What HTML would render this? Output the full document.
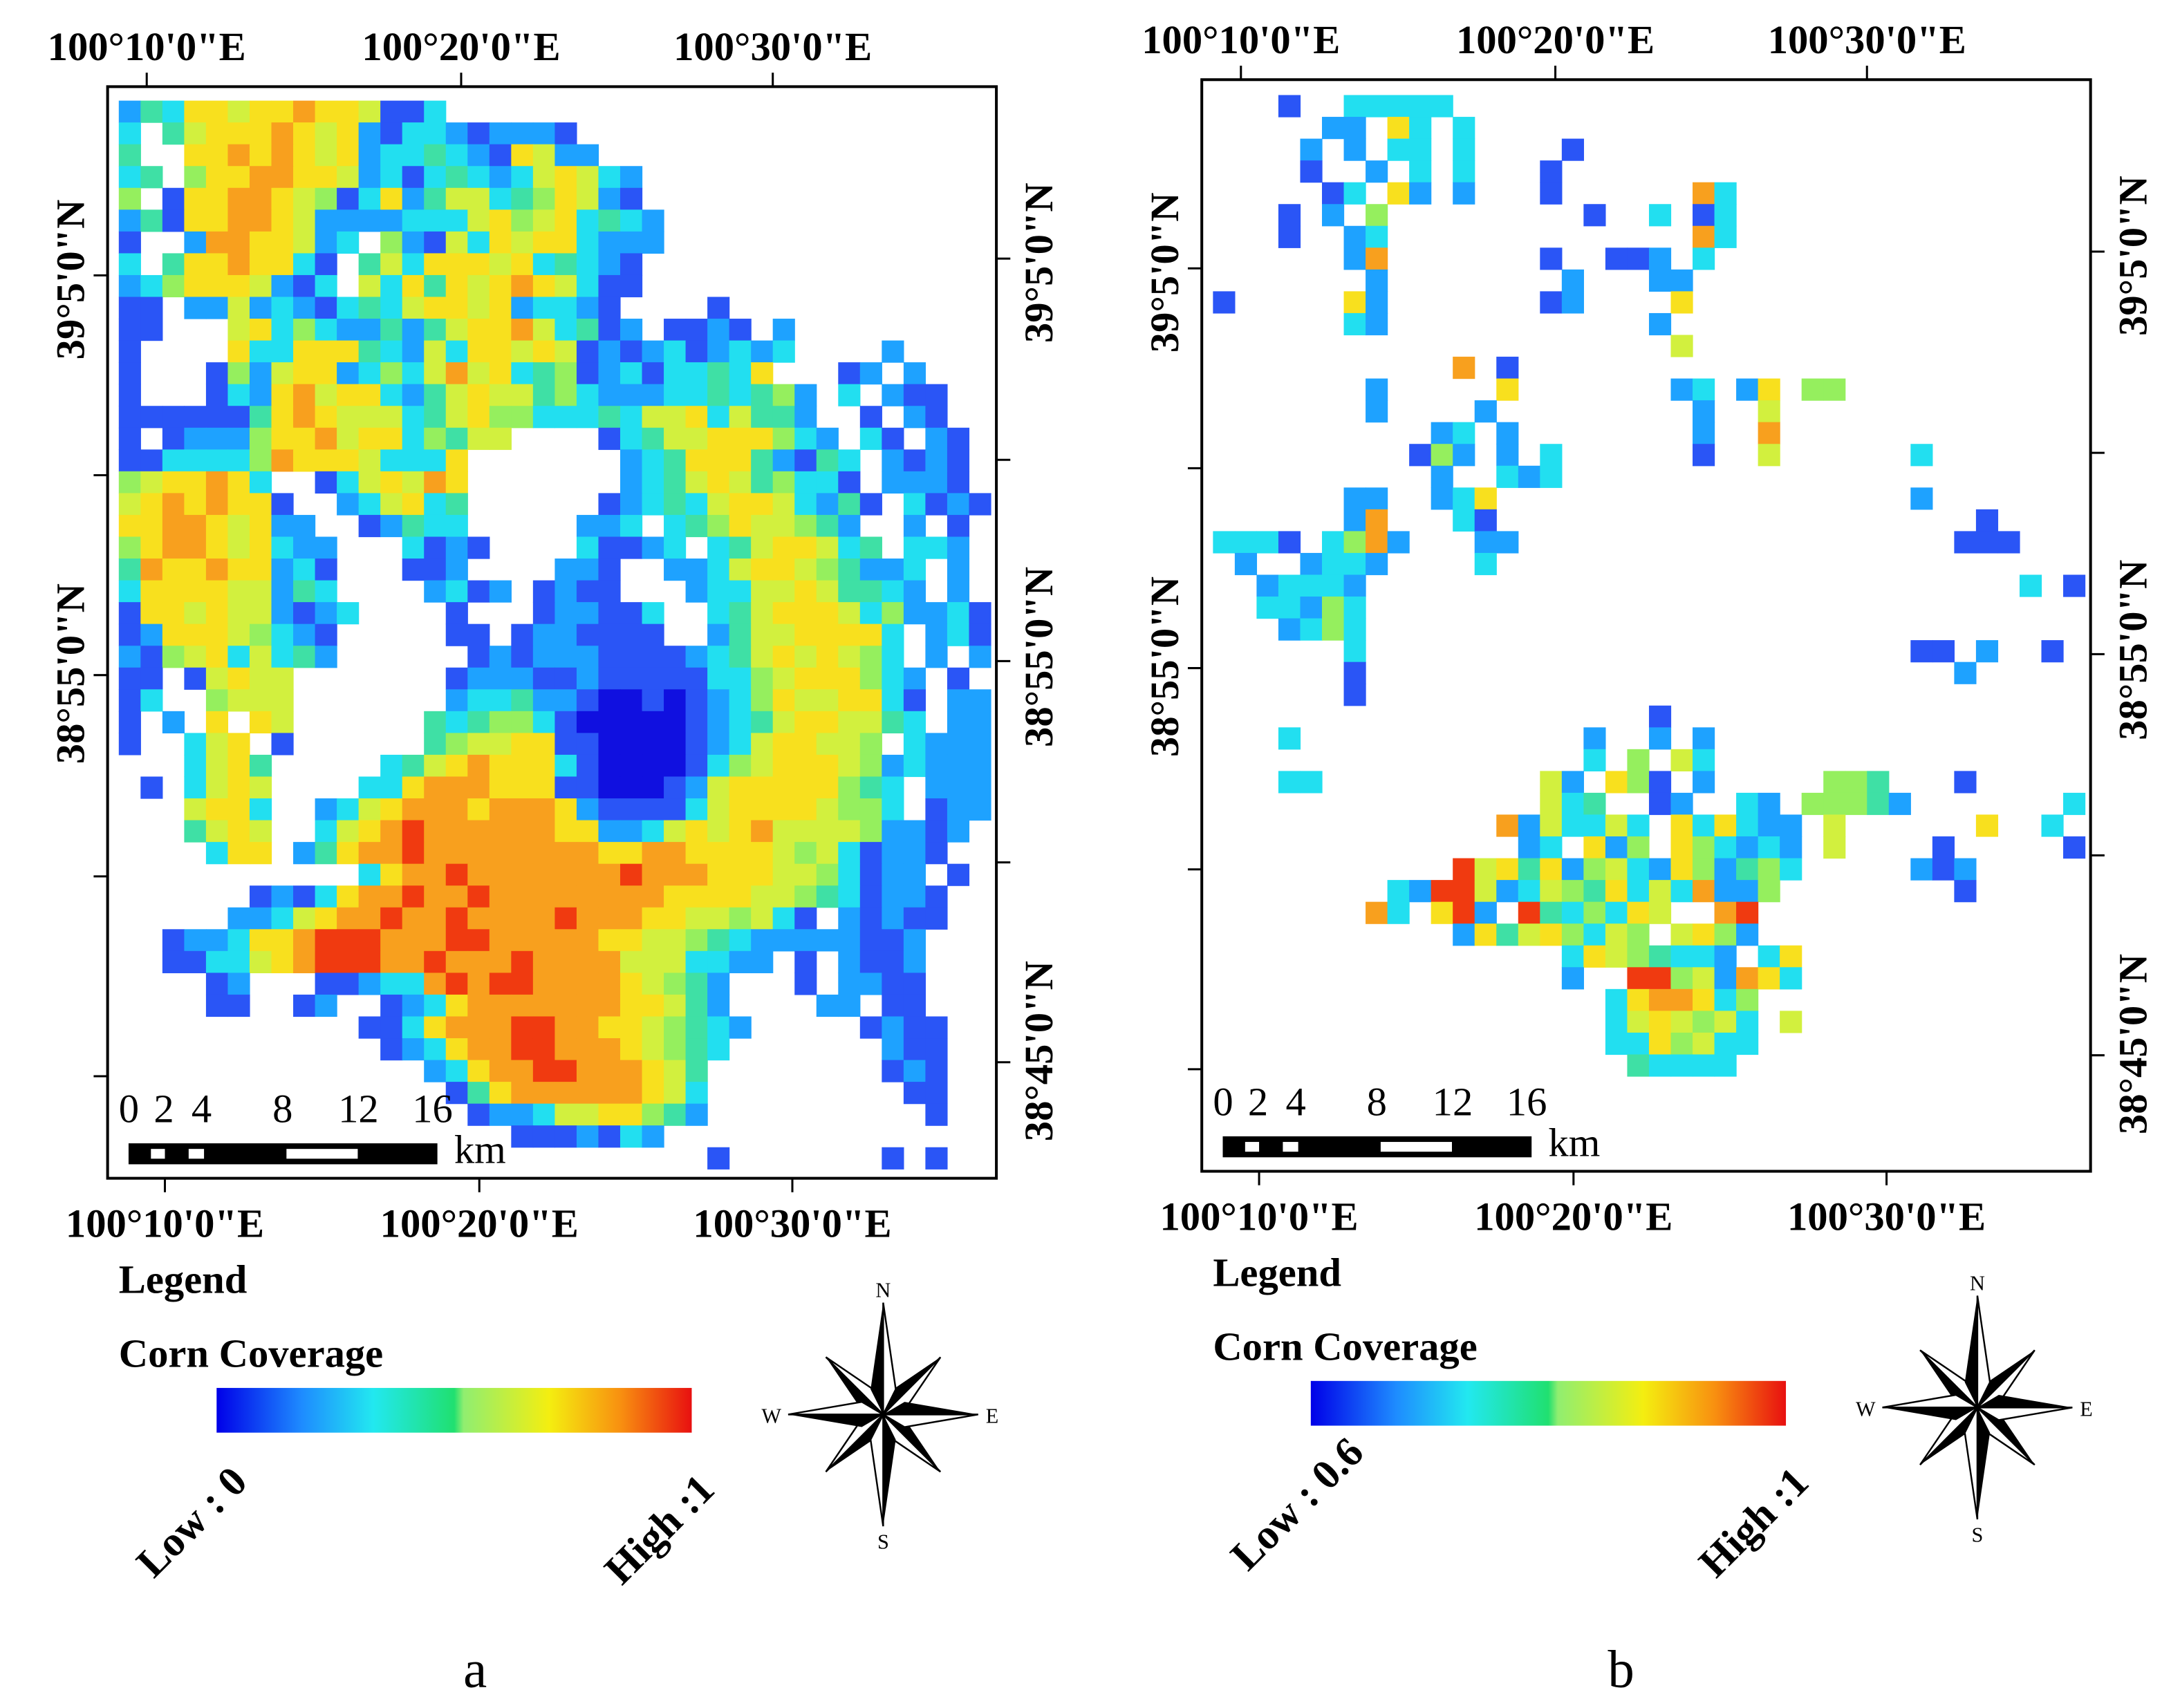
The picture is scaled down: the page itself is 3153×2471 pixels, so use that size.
<!DOCTYPE html>
<html><head><meta charset="utf-8"><style>
html,body{margin:0;padding:0;background:#fff;}
svg{display:block;}
text{font-family:"Liberation Serif",serif;}
</style></head><body>
<svg id="fig" width="3153" height="2471" viewBox="0 0 1560 1222" preserveAspectRatio="none" xmlns="http://www.w3.org/2000/svg">
<rect width="1560" height="1222" fill="#fff"/>
<g id="gridA"></g>
<g id="gridB"></g>
<g id="deco"></g>
</svg>
<script>
// Coverage level per cell (0 = low ... 9 = high, '.' = no corn)
const mapARows = [
"243776778776113",
"3.4677787672133212221",
"4..7787876723343217622",
"34.577887762313432367632",
"5.1778876513724663457621",
"2417788762222333675673432",
"1..28877623.5216376773222",
"3.47787731.4637776734321",
"2357776213.6374767876311",
"11.22623213436776723321....1",
"11...6735322424677863412.1121.2",
"1....73377743263776761212312323....2",
"1...15267723536867345123133437...12.2",
"1...1327867732467664532223343452.3.211",
"11111147876663467553334366736442..1.21",
"1.1222577867735466....13466777532.31.21",
"1133335877763337.......23477742143.2121",
"5677873..1367687.......23467645331.2221",
"67878771..236734......1234367763241.3121",
"778876722..12433.....223.345766542..2.1",
"5788767322...3121....31123.34677634.332",
"4877877231...112....221..223677654223.2",
"3777766243....2312.1211...23366764432.2",
"17767662123....1...122113..3467776352231",
"1277765321.....11.1221111..246677773.231",
"2156736342......12122211112346767653.2.2",
"11.16766.......1222112111113356777532.1",
"13..5666.......2334221001012357667731.22",
"1.2.7.76......43455310000012346776643.22",
"1..367.1......456677110000123677665.3222",
"...3674.....3467877731000013567776523222",
".1.3676....3378887771100012677777543.222",
"...6773..236788878887211113677776553.122",
"...4676..367898888887722367678666652212",
"....377.247889888888887788777765631221",
"...........37889888888898887776653122.1",
"......12137889889888888887777665431221",
".....223678898898888988877665631.21211",
"..12237789998889988888776654322222112",
"..1133678999889888988886663322.1.2112",
"....12...1123389899888876542...1.2211",
"....11..12..1237888888877642....22.11",
"...........113788899887765432.....1211",
"............1237889988876543.......211",
"..............2378899888764........121",
"...............147888888763.........11",
"................12236677542..........1",
"..................1112132",
"...........................1.......1.1"
];
const mapBRows = [
"...1..33333",
".....22.73.3",
"....2.2.33.3....1",
"....1..2.3.3...1",
".....13.72.2...1......83",
"...1.2.5.........1..3.13",
"...1..23..............83",
"......28.......1..112.3",
".......2........2...22",
"1.....72.......12....7",
"......32............2",
".....................6",
"...........8.1",
".......2.....7.......23.27.55",
".......2....2.........2..6",
"..........23.2........2..8",
".........152.2.3......1..6......3",
"..........2..323",
"......22..237...................2",
"......28...31......................1",
"3331.3582...22....................111",
".2..2332....3",
"..23332..............................3.1",
"..33253",
"...2353",
"......3.........................11.2..1",
"......1...........................2",
"......1",
"....................1",
"...3.............2..2.2",
".................3.5.63",
"...33..........62.751.2.....554...1",
"...............634..12..32.55542.......3",
".............8263363.737322.6......7..3",
"..............23.725.753232.6....1.....1",
"...........9674725632752453.....212",
"........329962365473638225........1",
".......83.792.9435376..89",
"...........274675365.6752",
"................37654332.37",
"................2..99562873",
"..................3788735",
"..................3676563.6",
"..................3375633",
"...................43333"
];
const levelColors = ["#1010e0","#2a55f6","#1ea2ff","#22dff0","#3fe0a5","#95ef5e","#d2f03e","#f8e01e","#f8a01e","#f03a10"];
const cellA = {x0:85, y0:72, s:15.6};
const cellB = {x0:868, y0:68, s:15.6};
const NS = "http://www.w3.org/2000/svg";
function drawGrid(rows, g, c, tag){
  rows.forEach((row, r) => {
    for (let k = 0; k < row.length; k++) {
      const ch = row[k];
      if (ch === '.') continue;
      const el = document.createElementNS(NS, 'rect');
      el.setAttribute('x', (c.x0 + k*c.s).toFixed(2));
      el.setAttribute('y', (c.y0 + r*c.s).toFixed(2));
      el.setAttribute('width', c.s+0.3);
      el.setAttribute('height', c.s+0.3);
      el.setAttribute('fill', levelColors[+ch]);
      
      
      g.appendChild(el);
    }
  });
}
drawGrid(mapARows, document.getElementById('gridA'), cellA, 'map-a');
drawGrid(mapBRows, document.getElementById('gridB'), cellB, 'map-b');
</script>
<script>
const deco = document.getElementById('deco');
deco.innerHTML = `
<defs>
<linearGradient id="cmap" x1="0" x2="1">
<stop offset="0" stop-color="#0000e8"/><stop offset="0.18" stop-color="#1e8cff"/>
<stop offset="0.33" stop-color="#22e8f0"/><stop offset="0.5" stop-color="#20e070"/>
<stop offset="0.52" stop-color="#90ee70"/><stop offset="0.7" stop-color="#f4ee10"/>
<stop offset="0.85" stop-color="#f89010"/><stop offset="1" stop-color="#e81010"/>
</linearGradient>
<g id="cp">
<polygon points="0,0 0,-80 -9,-18" fill="#000"/>
<polygon points="0,0 0,-80 9,-18" fill="#fff" stroke="#000" stroke-width="1.2"/>
</g>
<g id="cpd">
<polygon points="0,0 0,-58 -8,-16" fill="#000"/>
<polygon points="0,0 0,-58 8,-16" fill="#fff" stroke="#000" stroke-width="1.2"/>
</g>
</defs>`;
function panel(dx, dy, id, lowTxt){
  const s = `
<g transform="translate(${dx},${dy})">
<rect x="77" y="62" width="636" height="781" fill="none" stroke="#000" stroke-width="2"/>
<g font-weight="bold" font-size="29" text-anchor="middle">
<text x="105" y="43">100°10'0"E</text><text x="330" y="43">100°20'0"E</text><text x="553" y="43">100°30'0"E</text></g>
<g font-weight="bold" font-size="29" text-anchor="middle">
<text x="118" y="885">100°10'0"E</text><text x="343" y="885">100°20'0"E</text><text x="567" y="885">100°30'0"E</text></g>
<g stroke="#000" stroke-width="1.5">
<line x1="118" y1="843" x2="118" y2="853"/><line x1="343" y1="843" x2="343" y2="853"/><line x1="567" y1="843" x2="567" y2="853"/>
<line x1="105" y1="62" x2="105" y2="52"/><line x1="330" y1="62" x2="330" y2="52"/><line x1="553" y1="62" x2="553" y2="52"/>
<line x1="77" y1="197" x2="67" y2="197"/><line x1="77" y1="340" x2="67" y2="340"/><line x1="77" y1="483" x2="67" y2="483"/><line x1="77" y1="627" x2="67" y2="627"/><line x1="77" y1="770" x2="67" y2="770"/>
<line x1="713" y1="185" x2="723" y2="185"/><line x1="713" y1="329" x2="723" y2="329"/><line x1="713" y1="473" x2="723" y2="473"/><line x1="713" y1="617" x2="723" y2="617"/><line x1="713" y1="760" x2="723" y2="760"/>
</g>
<g font-weight="bold" font-size="29" text-anchor="middle">
<text transform="translate(60,200) rotate(-90)">39°5'0"N</text>
<text transform="translate(60,482) rotate(-90)">38°55'0"N</text></g>
<g font-weight="bold" font-size="29" text-anchor="middle">
<text transform="translate(753,188) rotate(-90)">39°5'0"N</text>
<text transform="translate(753,470) rotate(-90)">38°55'0"N</text>
<text transform="translate(753,752) rotate(-90)">38°45'0"N</text></g>
<g>
<g font-size="29"><text x="85" y="803">0</text><text x="110" y="803">2</text><text x="137" y="803">4</text><text x="195" y="803">8</text><text x="242" y="803">12</text><text x="295" y="803">16</text><text x="325" y="832">km</text></g>
<rect x="92" y="818" width="221" height="15" fill="#000"/>
<rect x="108" y="822" width="10" height="7" fill="#fff"/><rect x="135" y="822" width="11" height="7" fill="#fff"/><rect x="205" y="822" width="51" height="7" fill="#fff"/>
</g>
<text x="85" y="925" font-weight="bold" font-size="29">Legend</text>
<text x="85" y="978" font-weight="bold" font-size="29">Corn Coverage</text>
<rect x="155" y="993" width="340" height="32" fill="url(#cmap)"/>
<text transform="translate(110,1130) rotate(-45)" font-weight="bold" font-size="30">${lowTxt}</text>
<text transform="translate(445,1135) rotate(-45)" font-weight="bold" font-size="30">High :1</text>
<g transform="translate(632,1012)">
<use href="#cpd" transform="rotate(45)"/><use href="#cpd" transform="rotate(135)"/><use href="#cpd" transform="rotate(225)"/><use href="#cpd" transform="rotate(315)"/>
<use href="#cp" transform="rotate(0)"/><use href="#cp" transform="rotate(90) scale(1,0.85)"/><use href="#cp" transform="rotate(180)"/><use href="#cp" transform="rotate(270) scale(1,0.85)"/>
<g font-size="15" text-anchor="middle"><text x="0" y="-84">N</text><text x="0" y="96">S</text><text x="78" y="6">E</text><text x="-80" y="6">W</text></g>
</g>
</g>`;
  deco.insertAdjacentHTML('beforeend', s);
}
panel(0, 0, 'a', 'Low : 0');
panel(783, -5, 'b', 'Low : 0.6');
deco.insertAdjacentHTML('beforeend', `<text x="340" y="1207" font-size="38" text-anchor="middle">a</text><text x="1160" y="1207" font-size="38" text-anchor="middle">b</text>`);
</script>
</body></html>
